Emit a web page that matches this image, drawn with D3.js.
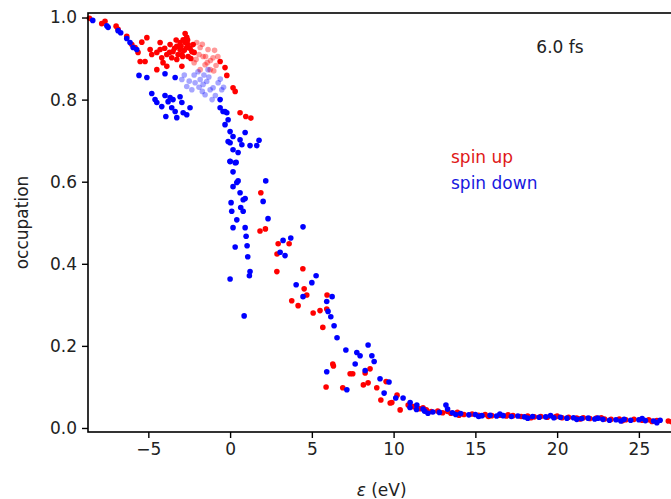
<!DOCTYPE html>
<html>
<head>
<meta charset="utf-8">
<script src="https://cdn.jsdelivr.net/npm/d3@7"></script>
<style>
  body { margin: 0; background: #fff; }
  text { font-family: "DejaVu Sans", sans-serif; }
</style>
</head>
<body>
<svg id="chart" width="671" height="499"></svg>
<script>
// occupation vs energy, 6.0 fs snapshot

let spinUp = [
    [-8.6, 0.998], [-7.85, 0.985], [-7.65, 0.991], [-6.97, 0.979], [-6.85, 0.971],
    [-6.32, 0.954], [-6.01, 0.934], [-5.81, 0.927], [-5.63, 0.915], [-5.40, 0.940],
    [-5.09, 0.951], [-5.50, 0.893], [-5.20, 0.893], [-4.89, 0.922], [-4.79, 0.910],
    [-4.48, 0.915], [-4.28, 0.939], [-4.28, 0.922], [-4.18, 0.902], [-4.10, 0.890],
    [-3.87, 0.910], [-3.67, 0.934], [-3.57, 0.902], [-3.49, 0.917], [-3.26, 0.898],
    [-3.06, 0.922], [-2.95, 0.910], [-2.75, 0.961], [-2.75, 0.939], [-2.65, 0.927],
    [-2.57, 0.905], [-2.34, 0.917], [-2.26, 0.934], [-3.06, 0.939], [-3.26, 0.930],
    [-4.48, 0.873], [-3.87, 0.881], [-2.95, 0.881], [-2.87, 0.946], [-2.57, 0.934],
    [-3.18, 0.910], [-3.4, 0.925], [-3.0, 0.930], [-2.8, 0.920], [-2.6, 0.945],
    [-2.45, 0.925], [-2.9, 0.905], [-3.7, 0.915], [-4.0, 0.925], [-2.2, 0.915],
    [-2.4, 0.900], [-3.3, 0.945], [-2.65, 0.952],
    [-0.61, 0.893], [-0.31, 0.878], [-0.20, 0.859], [0.18, 0.829], [0.31, 0.820],
    [0.61, 0.768], [0.96, 0.759], [1.27, 0.755], [1.88, 0.573], [1.83, 0.480],
    [2.16, 0.485], [2.94, 0.449], [3.61, 0.449], [2.87, 0.424], [2.86, 0.381],
    [4.45, 0.388], [4.53, 0.339], [4.69, 0.324], [3.77, 0.310], [4.16, 0.298],
    [5.08, 0.280], [5.50, 0.286], [5.93, 0.324], [5.91, 0.290], [5.67, 0.245],
    [6.28, 0.156], [6.32, 0.151], [7.34, 0.132], [7.50, 0.132], [8.26, 0.134],
    [8.56, 0.144], [8.44, 0.110], [8.15, 0.105], [5.87, 0.100], [6.89, 0.098],
    [8.97, 0.098], [9.54, 0.113], [9.22, 0.068], [9.89, 0.062], [10.21, 0.080],
    [10.40, 0.044], [10.89, 0.056], [9.79, 0.061],
    [11.2, 0.052], [11.6, 0.047], [12.0, 0.044], [12.3, 0.040], [12.7, 0.041],
    [13.0, 0.037], [13.5, 0.036], [13.9, 0.038], [14.3, 0.033], [14.8, 0.034],
    [15.2, 0.031], [15.6, 0.033], [16.0, 0.030], [16.5, 0.031], [16.9, 0.029],
    [17.3, 0.030], [17.8, 0.028], [18.2, 0.029], [18.6, 0.027], [19.0, 0.028],
    [19.4, 0.026], [19.9, 0.027], [20.3, 0.025], [20.7, 0.026], [21.2, 0.024],
    [21.6, 0.025], [22.0, 0.023], [22.4, 0.024], [22.9, 0.022], [23.3, 0.021],
    [23.8, 0.022], [24.2, 0.020], [24.7, 0.021], [25.2, 0.019], [25.6, 0.020],
    [26.1, 0.018], [26.8, 0.017],
    [11.8, 0.049], [13.3, 0.040], [14.0, 0.031], [15.8, 0.028], [17.0, 0.032],
    [18.4, 0.025], [20.0, 0.029], [21.4, 0.022], [22.7, 0.025], [24.0, 0.018],
    [25.8, 0.016], [27.0, 0.015]
];

// spin up states that fade out around -2..-1 eV
let spinUpFaded = [
    [-2.04, 0.939], [-1.83, 0.927], [-1.65, 0.905], [-1.35, 0.922], [-1.04, 0.902],
    [-2.08, 0.898], [-1.53, 0.885], [-1.22, 0.873], [-1.83, 0.873], [-0.86, 0.883],
    [-1.9, 0.910], [-1.7, 0.935], [-1.5, 0.905], [-1.2, 0.895], [-0.95, 0.920],
    [-0.75, 0.905], [-1.4, 0.890], [-2.2, 0.890], [-1.0, 0.870]
];

let spinDown = [
    [-8.40, 0.993], [-7.54, 0.980], [-7.46, 0.976], [-6.85, 0.968], [-6.69, 0.963],
    [-6.32, 0.949], [-6.12, 0.939], [-5.93, 0.927], [-5.71, 0.922], [-5.57, 0.859],
    [-5.09, 0.854], [-4.79, 0.815], [-4.59, 0.800], [-4.48, 0.793], [-4.18, 0.783],
    [-3.93, 0.759], [-3.98, 0.810], [-3.67, 0.805], [-3.79, 0.795], [-3.49, 0.800],
    [-3.26, 0.756], [-2.95, 0.793], [-2.87, 0.768], [-2.65, 0.763], [-2.45, 0.780],
    [-3.57, 0.780], [-3.36, 0.771], [-3.06, 0.807], [-3.98, 0.863], [-3.36, 0.854],
    [-0.61, 0.800], [-0.43, 0.771], [-0.20, 0.768], [-0.12, 0.751], [-0.31, 0.739],
    [0.00, 0.722], [0.18, 0.710], [0.00, 0.695], [0.18, 0.678], [0.00, 0.649],
    [0.31, 0.646], [0.18, 0.624], [0.18, 0.588], [0.41, 0.598], [-0.61, 0.780],
    [-0.31, 0.771], [0.92, 0.720], [0.61, 0.702], [-0.12, 0.698], [0.72, 0.690],
    [1.22, 0.688], [1.63, 0.688], [1.77, 0.701], [0.49, 0.671], [0.00, 0.650],
    [0.37, 0.647], [0.49, 0.602], [0.61, 0.573], [0.92, 0.559], [0.80, 0.556],
    [0.06, 0.549], [0.10, 0.528], [0.65, 0.537], [0.80, 0.528], [0.41, 0.507],
    [0.18, 0.488], [0.92, 0.488], [0.98, 0.467], [0.31, 0.441], [1.04, 0.444],
    [1.08, 0.417], [1.22, 0.381], [1.18, 0.371], [0.00, 0.363], [0.86, 0.273],
    [2.18, 0.602], [2.02, 0.552], [2.32, 0.510], [4.46, 0.490], [3.24, 0.457],
    [3.71, 0.463], [3.06, 0.428], [3.36, 0.420], [5.26, 0.371], [5.00, 0.354],
    [4.04, 0.349], [4.46, 0.320], [5.91, 0.308], [6.24, 0.320], [5.99, 0.284],
    [6.16, 0.271], [6.36, 0.249], [6.54, 0.220], [7.08, 0.190], [7.75, 0.184],
    [7.95, 0.176], [8.44, 0.202], [8.67, 0.176], [8.81, 0.162], [7.65, 0.156],
    [8.26, 0.140], [5.91, 0.137], [7.14, 0.093], [9.17, 0.120], [9.72, 0.112],
    [9.42, 0.085], [10.13, 0.073], [10.58, 0.073], [11.01, 0.062], [11.42, 0.056],
    [11.80, 0.046],
    [11.0, 0.050], [11.4, 0.045], [11.9, 0.041], [12.4, 0.039], [12.8, 0.038],
    [13.2, 0.056], [13.3, 0.046], [13.6, 0.037], [14.1, 0.035], [14.6, 0.032],
    [15.0, 0.033], [15.4, 0.030], [15.9, 0.031], [16.3, 0.029], [16.7, 0.030],
    [17.2, 0.028], [17.6, 0.029], [18.0, 0.027], [18.5, 0.028], [18.9, 0.026],
    [19.3, 0.027], [19.8, 0.025], [20.2, 0.026], [20.6, 0.024], [21.0, 0.025],
    [21.5, 0.023], [21.9, 0.024], [22.3, 0.022], [22.8, 0.021], [23.2, 0.019],
    [23.6, 0.020], [24.1, 0.021], [24.5, 0.019], [25.0, 0.020], [25.4, 0.018],
    [25.9, 0.017], [26.3, 0.019],
    [12.1, 0.036], [13.8, 0.033], [15.2, 0.028], [16.5, 0.034], [18.2, 0.024],
    [19.6, 0.030], [21.2, 0.021], [22.5, 0.024], [23.9, 0.017], [25.2, 0.023],
    [26.1, 0.013]
];

let spinDownFaded = [
    [-2.95, 0.849], [-2.65, 0.832], [-2.34, 0.824], [-2.14, 0.841], [-1.83, 0.849],
    [-1.65, 0.837], [-1.43, 0.844], [-1.22, 0.824], [-1.04, 0.829], [-0.73, 0.841],
    [-0.51, 0.824], [-1.53, 0.812], [-1.10, 0.800], [-1.96, 0.868], [-1.35, 0.873],
    [-2.5, 0.845], [-2.2, 0.860], [-1.9, 0.830], [-1.7, 0.820], [-1.3, 0.855],
    [-0.9, 0.810], [-0.6, 0.850], [-2.8, 0.860], [-1.6, 0.860], [-0.4, 0.830]
];

let xTicks = [-5, 0, 5, 10, 15, 20, 25];
let yTicks = [0.0, 0.2, 0.4, 0.6, 0.8, 1.0];

let margin = {top: 13, left: 88},
    width = 588,   // right spine falls just outside the window
    height = 419;

let svg = d3.select("#chart");
let chart = svg.append("g")
    .attr("transform", "translate(" + margin.left + "," + margin.top + ")");

let xScale = d3.scaleLinear()
    .domain([-8.69, 27.27])
    .range([0, width]);

let yScale = d3.scaleLinear()
    .domain([-0.0098, 1.011])
    .range([height, 0]);

// points
function drawPoints(dataSet, color, opacity) {
    chart.append("g")
        .selectAll("circle")
        .data(dataSet)
        .join("circle")
        .attr("cx", d => xScale(d[0]))
        .attr("cy", d => yScale(d[1]))
        .attr("r", 2.8)
        .attr("fill", color)
        .attr("fill-opacity", opacity);
}

drawPoints(spinUp, "#ff0000", 1);
drawPoints(spinDown, "#0000ff", 1);
drawPoints(spinUpFaded, "#ff0000", 0.4);
drawPoints(spinDownFaded, "#0000ff", 0.35);

// axes
let xAxis = chart.append("g")
    .attr("transform", "translate(0," + height + ")")
    .call(d3.axisBottom(xScale).tickValues(xTicks).tickSize(6).tickPadding(5)
        .tickFormat(d => d < 0 ? "\u2212" + Math.abs(d) : d));

let yAxis = chart.append("g")
    .call(d3.axisLeft(yScale).tickValues(yTicks).tickSize(6).tickPadding(5)
        .tickFormat(d3.format(".1f")));

[xAxis, yAxis].forEach(function(ax) {
    ax.select(".domain").remove();
    ax.selectAll(".tick line").attr("stroke", "#000").attr("stroke-width", 1.4);
    ax.selectAll(".tick text")
        .attr("fill", "#222")
        .style("font-size", "17px")
        .style("font-family", "DejaVu Sans");
});

// frame: left, bottom, top spines
chart.append("rect")
    .attr("x", 0)
    .attr("y", 0)
    .attr("width", width)
    .attr("height", height)
    .attr("fill", "none")
    .attr("stroke", "#000")
    .attr("stroke-width", 1.6);

// labels
svg.append("text")
    .attr("transform", "translate(28," + (margin.top + height / 2) + ") rotate(-90)")
    .attr("text-anchor", "middle")
    .style("font-size", "17px")
    .attr("fill", "#222")
    .text("occupation");

let xl = svg.append("text")
    .attr("x", margin.left + xScale(10) - 12)
    .attr("y", 496)
    .attr("text-anchor", "middle")
    .style("font-size", "17px")
    .attr("fill", "#222");
xl.append("tspan").style("font-style", "italic").text("ε");
xl.append("tspan").text(" (eV)");

svg.append("text")
    .attr("x", 560)
    .attr("y", 53)
    .attr("text-anchor", "middle")
    .style("font-size", "17px")
    .attr("fill", "#222")
    .text("6.0 fs");

svg.append("text")
    .attr("x", 451)
    .attr("y", 163)
    .style("font-size", "17px")
    .attr("fill", "#e01818")
    .text("spin up");

svg.append("text")
    .attr("x", 451)
    .attr("y", 189)
    .style("font-size", "17px")
    .attr("fill", "#1818e0")
    .text("spin down");
</script>
</body>
</html>
